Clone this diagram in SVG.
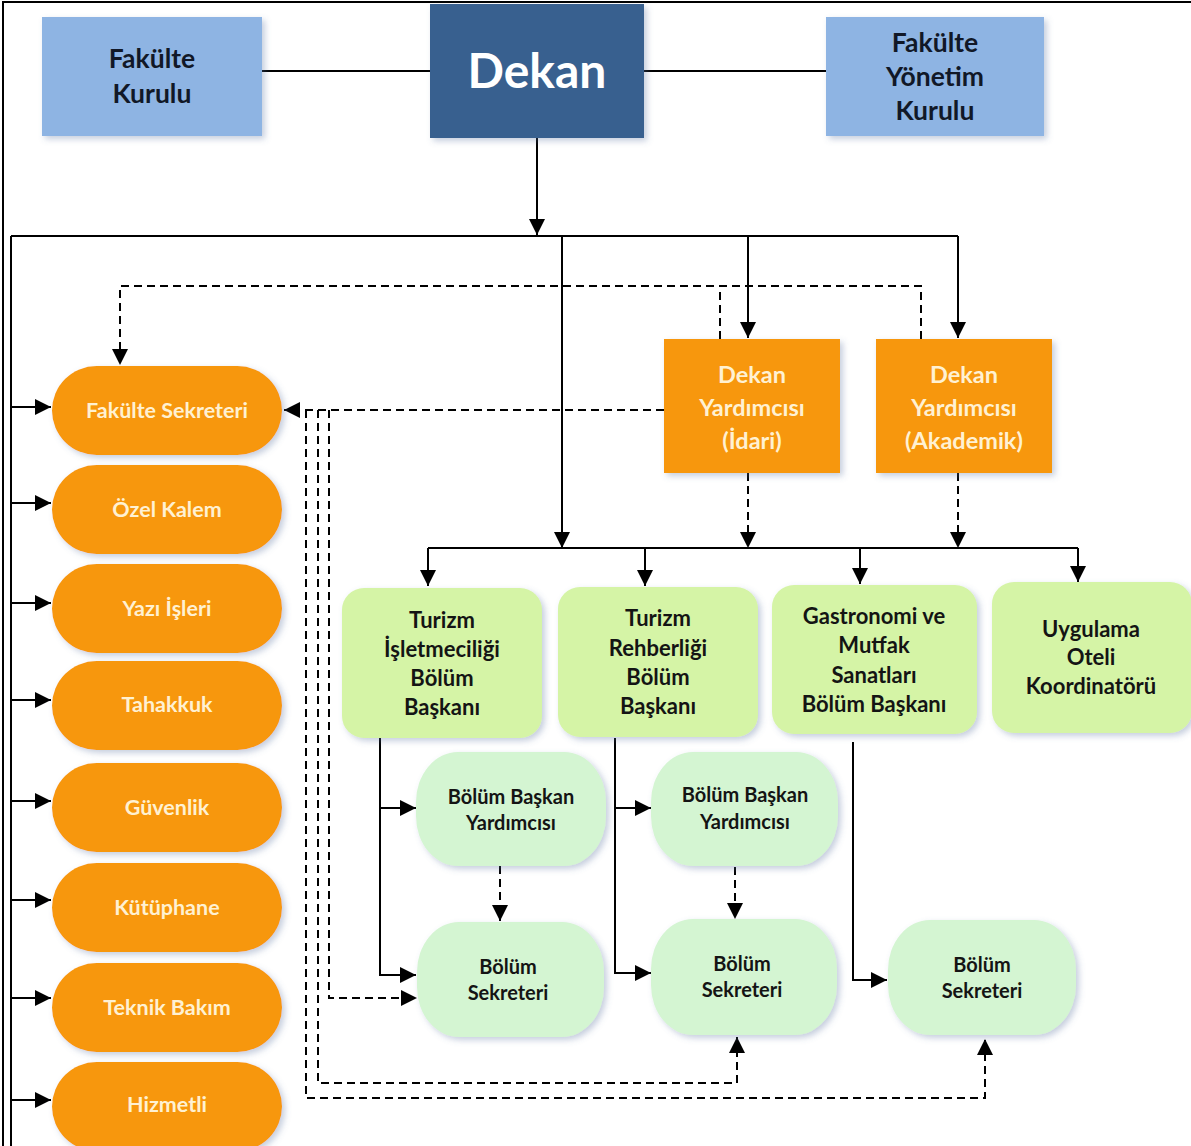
<svg xmlns="http://www.w3.org/2000/svg" width="1191" height="1146" viewBox="0 0 1191 1146">
<defs>
<marker id="ah" markerUnits="userSpaceOnUse" markerWidth="16" markerHeight="16" viewBox="0 0 16 16" refX="16" refY="8" orient="auto">
<path d="M0,0 L16,8 L0,16 Z" fill="#000"/>
</marker>
<filter id="sh" x="-10%" y="-10%" width="125%" height="125%">
<feDropShadow dx="3" dy="3" stdDeviation="3" flood-color="#5a73a0" flood-opacity="0.35"/>
</filter>
<style>
.t{font-family:Lato,"Open Sans","Liberation Sans",sans-serif;text-anchor:middle;font-weight:700}
.blue{fill:#8EB4E3;filter:url(#sh)}
.dk{fill:#38608F;filter:url(#sh)}
.or{fill:#F7970F;filter:url(#sh)}
.gh{fill:#D5F4A6;filter:url(#sh)}
.gm{fill:#D4F5D2;filter:url(#sh)}
.dark{fill:#111827;font-size:26.5px}
.ot{fill:#FFF1D2;font-size:21.5px}
.yt{fill:#FFF1D2;font-size:23.5px}
.gt{fill:#141414;font-size:22px}
.mt{fill:#141414;font-size:20px}
.ln{fill:none;stroke:#000;stroke-width:2}
.ds{fill:none;stroke:#000;stroke-width:2;stroke-dasharray:8 5}
.ar{marker-end:url(#ah)}
</style>
</defs>
<rect width="1191" height="1146" fill="#fff"/>
<path d="M3,1146 V2 H1191" fill="none" stroke="#000" stroke-width="2"/>

<g id="connectors">
<path class="ln" d="M262,71 H430"/>
<path class="ln" d="M644,71 H826"/>
<path class="ln ar" d="M537,138 V235"/>
<path class="ln" d="M11,236 H958"/>
<path class="ln" d="M11,236 V1146"/>
<path class="ln ar" d="M562,236 V548"/>
<path class="ln ar" d="M748,236 V338"/>
<path class="ln ar" d="M958,236 V338"/>
<path class="ln ar" d="M11,407 H51"/>
<path class="ln ar" d="M11,503 H51"/>
<path class="ln ar" d="M11,603 H51"/>
<path class="ln ar" d="M11,700 H51"/>
<path class="ln ar" d="M11,801 H51"/>
<path class="ln ar" d="M11,900 H51"/>
<path class="ln ar" d="M11,998 H51"/>
<path class="ln ar" d="M11,1100 H51"/>
<path class="ln" d="M428,548 H1078"/>
<path class="ln ar" d="M428,548 V586"/>
<path class="ln ar" d="M645,548 V586"/>
<path class="ln ar" d="M860,548 V584"/>
<path class="ln ar" d="M1078,548 V582"/>
<path class="ln ar" d="M380,738 V975 H416"/>
<path class="ln ar" d="M380,808 H416"/>
<path class="ln ar" d="M615,738 V973 H651"/>
<path class="ln ar" d="M615,808 H651"/>
<path class="ln ar" d="M853,742 V980 H887"/>
<path class="ds ar" d="M921,339 V286 H120 V365"/>
<path class="ds" d="M720,339 V286"/>
<path class="ds ar" d="M664,410 H284"/>
<path class="ds ar" d="M329,410 V998 H417"/>
<path class="ds ar" d="M318,410 V1083 H737 V1037"/>
<path class="ds ar" d="M306,410 V1098 H985 V1039"/>
<path class="ds ar" d="M748,473 V548"/>
<path class="ds ar" d="M958,473 V548"/>
<path class="ds ar" d="M500,866 V921"/>
<path class="ds ar" d="M735,867 V919"/>
</g>

<g id="fakulte-kurulu"><rect class="blue" x="42" y="17" width="220" height="119"/>
<text class="t dark" x="152" y="68">Fakülte</text><text class="t dark" x="152" y="103">Kurulu</text></g>
<g id="dekan"><rect class="dk" x="430" y="4" width="214" height="134"/>
<text class="t" x="537" y="88" font-size="48" fill="#fff">Dekan</text></g>
<g id="fakulte-yonetim-kurulu"><rect class="blue" x="826" y="17" width="218" height="119"/>
<text class="t dark" x="935" y="52">Fakülte</text><text class="t dark" x="935" y="86">Yönetim</text><text class="t dark" x="935" y="120">Kurulu</text></g>

<g id="dekan-yrd-idari"><rect class="or" x="664" y="339" width="176" height="134"/>
<text class="t yt" x="752" y="383">Dekan</text><text class="t yt" x="752" y="416">Yardımcısı</text><text class="t yt" x="752" y="449">(İdari)</text></g>
<g id="dekan-yrd-akademik"><rect class="or" x="876" y="339" width="176" height="134"/>
<text class="t yt" x="964" y="383">Dekan</text><text class="t yt" x="964" y="416">Yardımcısı</text><text class="t yt" x="964" y="449">(Akademik)</text></g>

<g id="fakulte-sekreteri"><rect class="or" x="52" y="366" width="230" height="89" rx="44.5"/><text class="t ot" x="167" y="418">Fakülte Sekreteri</text></g>
<g id="ozel-kalem"><rect class="or" x="52" y="465" width="230" height="89" rx="44.5"/><text class="t ot" x="167" y="517">Özel Kalem</text></g>
<g id="yazi-isleri"><rect class="or" x="52" y="564" width="230" height="89" rx="44.5"/><text class="t ot" x="167" y="616">Yazı İşleri</text></g>
<g id="tahakkuk"><rect class="or" x="52" y="661" width="230" height="89" rx="44.5"/><text class="t ot" x="167" y="712">Tahakkuk</text></g>
<g id="guvenlik"><rect class="or" x="52" y="763" width="230" height="89" rx="44.5"/><text class="t ot" x="167" y="815">Güvenlik</text></g>
<g id="kutuphane"><rect class="or" x="52" y="863" width="230" height="89" rx="44.5"/><text class="t ot" x="167" y="915">Kütüphane</text></g>
<g id="teknik-bakim"><rect class="or" x="52" y="963" width="230" height="89" rx="44.5"/><text class="t ot" x="167" y="1015">Teknik Bakım</text></g>
<g id="hizmetli"><rect class="or" x="52" y="1062" width="230" height="89" rx="44.5"/><text class="t ot" x="167" y="1112">Hizmetli</text></g>

<g id="turizm-isletmeciligi"><rect class="gh" x="342" y="588" width="200" height="150" rx="22"/>
<text class="t gt" x="442" y="628">Turizm</text><text class="t gt" x="442" y="657">İşletmeciliği</text><text class="t gt" x="442" y="686">Bölüm</text><text class="t gt" x="442" y="715">Başkanı</text></g>
<g id="turizm-rehberligi"><rect class="gh" x="558" y="587" width="200" height="150" rx="22"/>
<text class="t gt" x="658" y="626">Turizm</text><text class="t gt" x="658" y="656">Rehberliği</text><text class="t gt" x="658" y="685">Bölüm</text><text class="t gt" x="658" y="714">Başkanı</text></g>
<g id="gastronomi"><rect class="gh" x="772" y="585" width="205" height="149" rx="22"/>
<text class="t gt" x="874" y="624">Gastronomi ve</text><text class="t gt" x="874" y="653">Mutfak</text><text class="t gt" x="874" y="683">Sanatları</text><text class="t gt" x="874" y="712">Bölüm Başkanı</text></g>
<g id="uygulama-oteli"><rect class="gh" x="992" y="582" width="200" height="151" rx="22"/>
<text class="t gt" x="1091" y="637">Uygulama</text><text class="t gt" x="1091" y="665">Oteli</text><text class="t gt" x="1091" y="694">Koordinatörü</text></g>

<g id="bby-1"><rect class="gm" x="416" y="752" width="190" height="114" rx="42" ry="50"/>
<text class="t mt" x="511" y="804">Bölüm Başkan</text><text class="t mt" x="511" y="830">Yardımcısı</text></g>
<g id="bby-2"><rect class="gm" x="651" y="752" width="187" height="114" rx="42" ry="50"/>
<text class="t mt" x="745" y="802">Bölüm Başkan</text><text class="t mt" x="745" y="829">Yardımcısı</text></g>
<g id="bs-1"><rect class="gm" x="417" y="922" width="187" height="115" rx="42" ry="50"/>
<text class="t mt" x="508" y="974">Bölüm</text><text class="t mt" x="508" y="1000">Sekreteri</text></g>
<g id="bs-2"><rect class="gm" x="651" y="919" width="186" height="116" rx="42" ry="50"/>
<text class="t mt" x="742" y="971">Bölüm</text><text class="t mt" x="742" y="997">Sekreteri</text></g>
<g id="bs-3"><rect class="gm" x="888" y="920" width="188" height="115" rx="42" ry="50"/>
<text class="t mt" x="982" y="972">Bölüm</text><text class="t mt" x="982" y="998">Sekreteri</text></g>
</svg>
